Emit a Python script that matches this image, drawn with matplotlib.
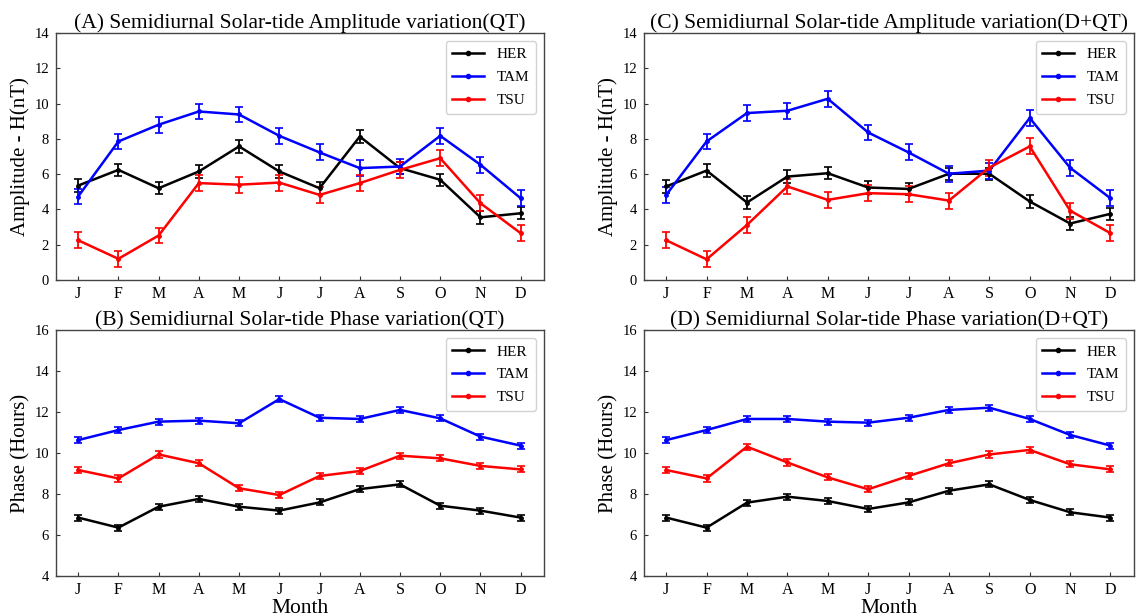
import matplotlib
matplotlib.use("Agg")
import matplotlib.pyplot as plt
from matplotlib.lines import Line2D
import numpy as np

plt.rcParams['font.family'] = ['Liberation Serif', 'DejaVu Serif']

months = ['J', 'F', 'M', 'A', 'M', 'J', 'J', 'A', 'S', 'O', 'N', 'D']
stations = ['HER', 'TAM', 'TSU']
colors = ['black', 'blue', 'red']

# Amplitude of the semidiurnal solar tide, quiet days (nT)
amp_qt_her = [5.35, 6.24, 5.2, 6.15, 7.57, 6.15, 5.2, 8.13, 6.34, 5.68, 3.55, 3.78]
amp_qt_tam = [4.73, 7.85, 8.8, 9.55, 9.38, 8.17, 7.23, 6.34, 6.43, 8.17, 6.53, 4.63]
amp_qt_tsu = [2.25, 1.2, 2.52, 5.49, 5.4, 5.52, 4.82, 5.49, 6.24, 6.9, 4.35, 2.65]

# Amplitude, disturbed + quiet days (nT)
amp_dqt_her = [5.3, 6.2, 4.39, 5.86, 6.05, 5.24, 5.16, 6.02, 6.02, 4.45, 3.2, 3.75]
amp_dqt_tam = [4.82, 7.85, 9.46, 9.59, 10.27, 8.36, 7.23, 6.02, 6.2, 9.18, 6.36, 4.63]
amp_dqt_tsu = [2.25, 1.17, 3.12, 5.3, 4.54, 4.92, 4.86, 4.5, 6.37, 7.57, 3.93, 2.65]

# Phase, quiet days (hours)
ph_qt_her = [6.85, 6.36, 7.38, 7.76, 7.38, 7.19, 7.59, 8.24, 8.47, 7.43, 7.19, 6.85]
ph_qt_tam = [10.63, 11.12, 11.53, 11.58, 11.45, 12.63, 11.72, 11.66, 12.1, 11.69, 10.8, 10.36]
ph_qt_tsu = [9.17, 8.76, 9.93, 9.5, 8.28, 7.95, 8.88, 9.12, 9.87, 9.74, 9.37, 9.2]

# Phase, disturbed + quiet days (hours)
ph_dqt_her = [6.85, 6.36, 7.58, 7.87, 7.66, 7.27, 7.59, 8.16, 8.47, 7.71, 7.11, 6.85]
ph_dqt_tam = [10.63, 11.12, 11.66, 11.66, 11.53, 11.48, 11.72, 12.1, 12.21, 11.66, 10.88, 10.36]
ph_dqt_tsu = [9.17, 8.76, 10.31, 9.54, 8.81, 8.23, 8.88, 9.5, 9.93, 10.15, 9.45, 9.2]

# Error-bar half widths per station
amp_err = [0.35, 0.45, 0.45]
ph_err = [0.15, 0.15, 0.15]

panels = [
    # (position, title, series, errors, ylim, yticks, ylabel, xlabel)
    ([0.0491, 0.5455, 0.4277, 0.4010],
     '(A) Semidiurnal Solar-tide Amplitude variation(QT)',
     [amp_qt_her, amp_qt_tam, amp_qt_tsu], amp_err, (0, 14), range(0, 15, 2),
     'Amplitude - H(nT)', None),
    ([0.5644, 0.5455, 0.4294, 0.4010],
     '(C) Semidiurnal Solar-tide Amplitude variation(D+QT)',
     [amp_dqt_her, amp_dqt_tam, amp_dqt_tsu], amp_err, (0, 14), range(0, 15, 2),
     'Amplitude - H(nT)', None),
    ([0.0491, 0.0649, 0.4277, 0.3994],
     '(B) Semidiurnal Solar-tide Phase variation(QT)',
     [ph_qt_her, ph_qt_tam, ph_qt_tsu], ph_err, (4, 16), range(4, 17, 2),
     'Phase (Hours)', 'Month'),
    ([0.5644, 0.0649, 0.4294, 0.3994],
     '(D) Semidiurnal Solar-tide Phase variation(D+QT)',
     [ph_dqt_her, ph_dqt_tam, ph_dqt_tsu], ph_err, (4, 16), range(4, 17, 2),
     'Phase (Hours)', 'Month'),
]

fig = plt.figure(figsize=(11.41, 6.16), dpi=100)
x = np.arange(len(months))

for pos, title, series, errs, ylim, yticks, ylabel, xlabel in panels:
    ax = fig.add_axes(pos)
    for name, vals, col, e in zip(stations, series, colors, errs):
        ax.errorbar(x, vals, yerr=e, color=col, lw=1.8, marker='o', ms=2.5,
                    capsize=3, elinewidth=1.3, capthick=1.2)
    ax.set_xlim(-0.55, 11.58)
    ax.set_ylim(*ylim)
    ax.set_yticks(list(yticks))
    ax.set_xticks(x)
    ax.set_xticklabels(months)
    ax.tick_params(direction='in', length=3, color='#333333')
    ax.tick_params(axis='x', labelsize=11.5, pad=4)
    ax.tick_params(axis='y', labelsize=10.5, pad=5)
    for sp in ax.spines.values():
        sp.set_color('#444444')
        sp.set_linewidth(1.0)
    ax.set_title(title, fontsize=15.5, pad=3)
    ax.set_ylabel(ylabel, fontsize=15, labelpad=3)
    if xlabel:
        ax.set_xlabel(xlabel, fontsize=15.5, labelpad=1)
    handles = [Line2D([], [], color=c, lw=1.8, marker='o', ms=3) for c in colors]
    leg = ax.legend(handles, stations, loc='upper right', fontsize=11,
                    fancybox=True, handlelength=2.1, borderpad=0.42,
                    labelspacing=0.6, handletextpad=0.8, borderaxespad=0.55)
    leg.get_frame().set_edgecolor('#c8c8c8')
    leg.get_frame().set_boxstyle('round', pad=0.0, rounding_size=0.15)

fig.savefig('out.png', dpi=100)
